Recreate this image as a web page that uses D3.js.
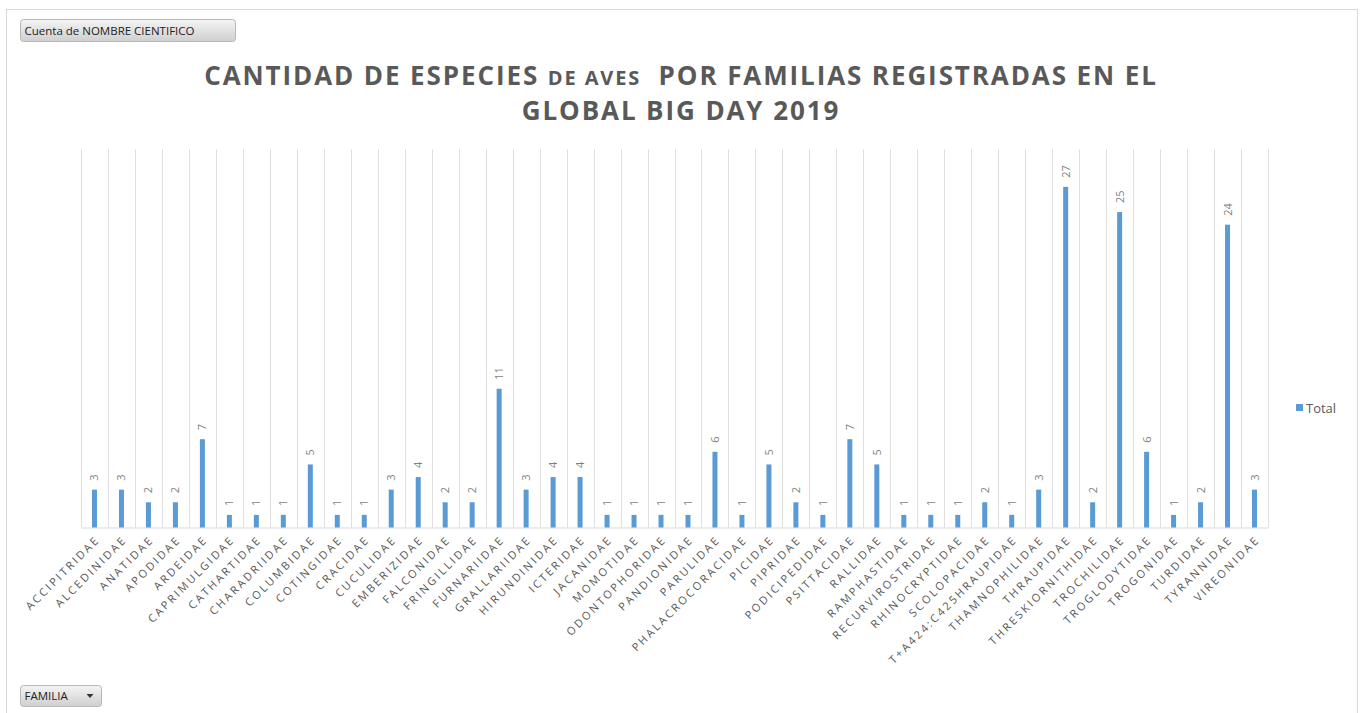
<!DOCTYPE html>
<html>
<head>
<meta charset="utf-8">
<script src="https://cdn.jsdelivr.net/npm/d3@7"></script>
<style>
  body { margin: 0; background: #fff; }
  svg { display: block; font-family: "Open Sans", "Noto Sans", sans-serif; }
</style>
</head>
<body>
<div id="chart"></div>
<script>
const families = ['ACCIPITRIDAE','ALCEDINIDAE','ANATIDAE','APODIDAE','ARDEIDAE','CAPRIMULGIDAE',
  'CATHARTIDAE','CHARADRIIDAE','COLUMBIDAE','COTINGIDAE','CRACIDAE','CUCULIDAE','EMBERIZIDAE',
  'FALCONIDAE','FRINGILLIDAE','FURNARIIDAE','GRALLARIIDAE','HIRUNDINIDAE','ICTERIDAE','JACANIDAE',
  'MOMOTIDAE','ODONTOPHORIDAE','PANDIONIDAE','PARULIDAE','PHALACROCORACIDAE','PICIDAE','PIPRIDAE',
  'PODICIPEDIDAE','PSITTACIDAE','RALLIDAE','RAMPHASTIDAE','RECURVIROSTRIDAE','RHINOCRYPTIDAE',
  'SCOLOPACIDAE','T+A424:C425HRAUPIDAE','THAMNOPHILIDAE','THRAUPIDAE','THRESKIORNITHIDAE',
  'TROCHILIDAE','TROGLODYTIDAE','TROGONIDAE','TURDIDAE','TYRANNIDAE','VIREONIDAE'];
const totals = [3,3,2,2,7,1,1,1,5,1,1,3,4,2,2,11,3,4,4,1,1,1,1,6,1,5,2,1,7,5,1,1,1,2,1,3,27,2,25,6,1,2,24,3];
const yDomain = [0, 30];
const seriesName = 'Total';

const W = 1363, H = 713;
const plot = { left: 81, right: 1268, top: 149, bottom: 527.5 };
const textGray = '#595959';
const barColor = '#5B9BD5';

const svg = d3.select('#chart').append('svg')
  .attr('width', W)
  .attr('height', H);

// outer frame
svg.append('rect')
  .attr('x', 6.5).attr('y', 9.5)
  .attr('width', 1351).attr('height', 720)
  .attr('fill', '#fff')
  .attr('stroke', '#d9d9d9');

const defs = svg.append('defs');
const grad = defs.append('linearGradient')
  .attr('id', 'btn').attr('x1', 0).attr('y1', 0).attr('x2', 0).attr('y2', 1);
grad.append('stop').attr('offset', '0%').attr('stop-color', '#f4f4f4');
grad.append('stop').attr('offset', '100%').attr('stop-color', '#cfcfcf');

function button(x, y, w, h, label, arrow) {
  const b = svg.append('g').attr('transform', `translate(${x},${y})`);
  b.append('rect')
    .attr('width', w).attr('height', h)
    .attr('rx', 3)
    .attr('fill', 'url(#btn)')
    .attr('stroke', '#b8b8b8');
  b.append('text')
    .attr('x', 4).attr('y', h / 2 + 4)
    .attr('font-size', 11.5)
    .attr('fill', '#222')
    .text(label);
  if (arrow) {
    b.append('path')
      .attr('d', `M${w - 15},${h / 2 - 2} l7,0 l-3.5,4 z`)
      .attr('fill', '#333');
  }
}
button(20.5, 19.5, 215, 22, 'Cuenta de NOMBRE CIENTIFICO', false);
button(20.5, 685.5, 81, 21, 'FAMILIA', true);

// title
const title = svg.append('text')
  .attr('text-anchor', 'middle')
  .attr('font-weight', 'bold')
  .attr('fill', textGray)
  .attr('letter-spacing', 1.9)
  .attr('font-size', 26);
const l1 = title.append('tspan').attr('x', 681).attr('y', 85);
l1.append('tspan').text('CANTIDAD DE ESPECIES ');
l1.append('tspan').attr('font-size', 20).text('DE AVES');
l1.append('tspan').text('\u00a0\u00a0POR FAMILIAS REGISTRADAS EN EL');
title.append('tspan').attr('x', 681).attr('y', 120).text('GLOBAL BIG DAY 2019');

// scales
const x = d3.scaleBand()
  .domain(families)
  .range([plot.left, plot.right]);
const y = d3.scaleLinear()
  .domain(yDomain)
  .range([plot.bottom, plot.top]);

// vertical gridlines at category boundaries
const edges = families.map(f => x(f)).concat([plot.right]);
svg.append('g').selectAll('line')
  .data(edges)
  .join('line')
  .attr('x1', d => Math.round(d) + 0.5).attr('x2', d => Math.round(d) + 0.5)
  .attr('y1', plot.top).attr('y2', plot.bottom)
  .attr('stroke', '#e0e0e0');

// x axis line
const xAxis = svg.append('g')
  .attr('transform', `translate(0,${plot.bottom})`)
  .call(d3.axisBottom(x).tickSize(0).tickSizeOuter(0).tickFormat(''));
xAxis.select('.domain').attr('stroke', '#d9d9d9');

// bars
const barW = 5;
svg.append('g').selectAll('rect')
  .data(totals)
  .join('rect')
  .attr('x', (d, i) => x(families[i]) + x.bandwidth() / 2 - barW / 2)
  .attr('y', d => y(d))
  .attr('width', barW)
  .attr('height', d => y(0) - y(d))
  .attr('fill', barColor);

// data labels
svg.append('g').selectAll('text')
  .data(totals)
  .join('text')
  .attr('transform', (d, i) => `translate(${x(families[i]) + x.bandwidth() / 2 + 4},${y(d) - 9}) rotate(-90)`)
  .attr('font-size', 11)
  .attr('fill', '#7f7f7f')
  .text(d => d);

// category labels
svg.append('g').selectAll('text')
  .data(families)
  .join('text')
  .attr('transform', d => `translate(${x(d) + x.bandwidth() / 2 + 6},${plot.bottom + 13}) rotate(-45)`)
  .attr('text-anchor', 'end')
  .attr('font-size', 11)
  .attr('letter-spacing', 2.4)
  .attr('fill', textGray)
  .text(d => d);

// legend
const lg = svg.append('g').attr('transform', 'translate(1296,404)');
lg.append('rect').attr('width', 7).attr('height', 7).attr('fill', barColor);
lg.append('text')
  .attr('x', 10).attr('y', 8.5)
  .attr('font-size', 13)
  .attr('fill', textGray)
  .text(seriesName);
</script>
</body>
</html>
